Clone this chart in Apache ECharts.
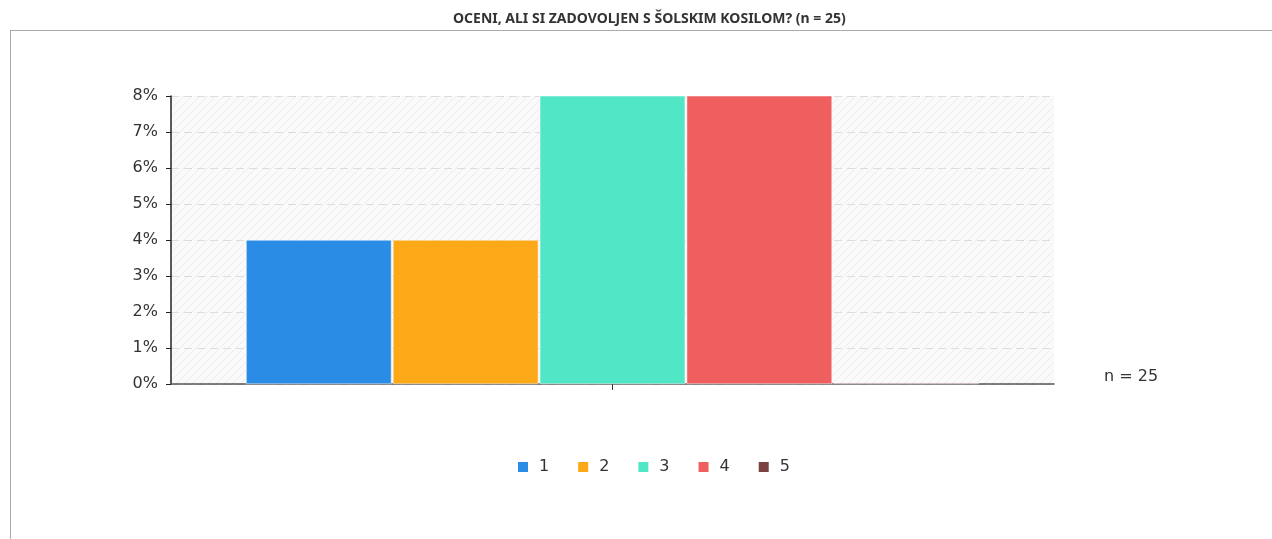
<!DOCTYPE html>
<html>
<head>
<meta charset="utf-8">
<script src="https://cdn.jsdelivr.net/npm/echarts@6/dist/echarts.min.js"></script>
<style>
  html, body { margin: 0; padding: 0; background: #fff; }
  #wrap { position: relative; width: 1272px; height: 539px; overflow: hidden; }
  #frame { position: absolute; left: 10px; top: 30px; width: 1400px; height: 600px; border: 1px solid #aaa; }
  #chart { position: absolute; left: 0; top: 0; width: 1272px; height: 539px; }
</style>
</head>
<body>
<div id="wrap">
  <div id="frame"></div>
  <div id="chart"></div>
</div>
<script>
var titleText = 'OCENI, ALI SI ZADOVOLJEN S ŠOLSKIM KOSILOM? (n = 25)';
var categories = [''];
var seriesNames = ['1', '2', '3', '4', '5'];
var seriesValues = [4, 4, 44, 48, 0];
var colors = ['#2a8ce4', '#fda817', '#51e6c6', '#f05f5f', '#7a4341'];
var yTicks = [0, 1, 2, 3, 4, 5, 6, 7, 8];

var labelFont = '"DejaVu Sans", Verdana, sans-serif';

// striped background for the plot area
const makeHatch = () => {
    var c = document.createElement('canvas');
    c.width = 8; c.height = 8;
    var ctx = c.getContext('2d');
    ctx.fillStyle = '#fafafa';
    ctx.fillRect(0, 0, 8, 8);
    ctx.strokeStyle = '#ececec';
    ctx.lineWidth = 1;
    ctx.beginPath();
    ctx.moveTo(0, 8); ctx.lineTo(8, 0);
    ctx.moveTo(-4, 4); ctx.lineTo(4, -4);
    ctx.moveTo(4, 12); ctx.lineTo(12, 4);
    ctx.stroke();
    return c;
};

const chart = echarts.init(document.getElementById('chart'));

var series = seriesNames.map((name, i) => ({
    name: name,
    type: 'bar',
    data: [seriesValues[i]],
    barGap: '1%',
    barCategoryGap: '17%',
    barMinHeight: i === 4 ? 1 : 0,
    itemStyle: { color: colors[i], borderColor: '#fff', borderWidth: 0.5 },
    emphasis: { disabled: true }
}));

chart.setOption({
    animation: false,
    color: colors,
    title: [
        {
            text: titleText,
            left: 453,
            top: 12,
            padding: 0,
            textStyle: { fontFamily: 'Noto Sans', fontWeight: 'bold', fontSize: 14, color: '#333' }
        },
        {
            text: 'n = 25',
            left: 1104,
            top: 369,
            padding: 0,
            textStyle: { fontFamily: labelFont, fontWeight: 'normal', fontSize: 16, color: '#333' }
        }
    ],
    legend: {
        data: seriesNames,
        top: 459,
        left: 516,
        padding: 0,
        icon: 'rect',
        itemWidth: 12,
        itemHeight: 12,
        itemGap: 27,
        textStyle: { fontFamily: labelFont, fontSize: 16, color: '#333', padding: [0, 0, 0, 5] }
    },
    grid: {
        left: 171,
        right: 218,
        top: 96,
        bottom: 155,
        show: true,
        borderWidth: 0,
        backgroundColor: { image: makeHatch(), repeat: 'repeat' }
    },
    xAxis: {
        type: 'category',
        data: categories,
        axisLine: { lineStyle: { color: '#555', width: 1.5 } },
        axisTick: { show: true, alignWithLabel: true, length: 6, lineStyle: { color: '#333' } },
        axisLabel: { show: false }
    },
    yAxis: {
        type: 'value',
        min: 0,
        max: yTicks[yTicks.length - 1],
        interval: 1,
        axisLine: { show: true, lineStyle: { color: '#222', width: 1.5 } },
        axisTick: { show: true, length: 5, lineStyle: { color: '#222' } },
        axisLabel: {
            formatter: '{value}%',
            fontFamily: labelFont,
            fontSize: 16,
            color: '#333',
            margin: 13
        },
        splitLine: { lineStyle: { color: '#dcdcdc', type: [8, 5] } }
    },
    series: series
});
</script>
</body>
</html>
